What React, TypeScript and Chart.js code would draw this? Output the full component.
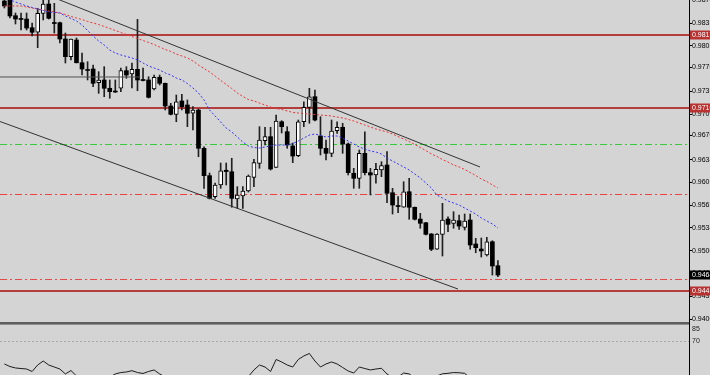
import React, { useEffect, useRef } from "react";
import { Chart, registerables } from "chart.js";

Chart.register(...registerables);

// ---- candle data (price) ----
const OPEN = [0.98679,0.98709,0.98463,0.98422,0.98414,0.98286,0.98219,0.98498,0.98635,0.98363,
0.98360,0.98120,0.97860,0.98105,0.97771,0.97671,0.97679,0.97477,0.97517,0.97395,
0.97352,0.97395,0.97654,0.97605,0.97674,0.97524,0.97517,0.97384,0.97557,0.97468,
0.97134,0.97012,0.97208,0.97149,0.97027,0.97075,0.96512,0.96109,0.95800,0.95972,
0.96189,0.96167,0.95766,0.95810,0.95883,0.96085,0.96291,0.96624,0.96683,0.96232,
0.96903,0.96756,0.96546,0.96403,0.96903,0.97115,0.97271,0.96693,0.96512,0.96438,
0.96771,0.96821,0.96575,0.96144,0.96070,0.96438,0.96153,0.96119,0.96192,0.96266,
0.95858,0.95670,0.95644,0.95873,0.95644,0.95471,0.95417,0.95251,0.95026,0.95246,
0.95471,0.95408,0.95446,0.95349,0.95457,0.95104,0.95030,0.94942,0.95137,0.94784];

const HIGH = [0.98738,0.98738,0.98503,0.98503,0.98503,0.98356,0.98572,0.98694,0.98694,0.98645,
0.98370,0.98208,0.98120,0.98135,0.97914,0.97786,0.97738,0.97639,0.97713,0.97517,
0.97517,0.97693,0.97713,0.97767,0.98410,0.97693,0.97565,0.97590,0.97590,0.97473,
0.97174,0.97296,0.97306,0.97223,0.97124,0.97090,0.96535,0.96148,0.96001,0.96295,
0.96295,0.96365,0.95947,0.95947,0.96119,0.96350,0.96830,0.96821,0.96821,0.97002,
0.96918,0.96830,0.96590,0.96928,0.97197,0.97395,0.97370,0.96977,0.96634,0.96928,
0.96903,0.96880,0.96590,0.96217,0.96487,0.96756,0.96217,0.96291,0.96315,0.96462,
0.95923,0.95800,0.96020,0.96070,0.95648,0.95555,0.95420,0.95258,0.95258,0.95702,
0.95505,0.95579,0.95530,0.95545,0.95545,0.95187,0.95192,0.95202,0.95152,0.94858];

const LOW = [0.98576,0.98429,0.98341,0.98253,0.98253,0.98164,0.97992,0.98400,0.98414,0.98208,
0.98061,0.97767,0.97811,0.97767,0.97590,0.97517,0.97418,0.97321,0.97271,0.97248,
0.97333,0.97345,0.97542,0.97399,0.97359,0.97502,0.97252,0.97370,0.97443,0.97075,
0.97002,0.96903,0.97075,0.96830,0.96781,0.96388,0.95923,0.95766,0.95776,0.95923,
0.95972,0.95644,0.95629,0.95629,0.95869,0.95947,0.96218,0.96560,0.96192,0.96229,
0.96737,0.96512,0.96300,0.96388,0.96830,0.96880,0.96913,0.96413,0.96340,0.96388,
0.96732,0.96438,0.96119,0.95923,0.95923,0.96119,0.95825,0.95997,0.96094,0.95711,
0.95545,0.95564,0.95644,0.95467,0.95457,0.95335,0.95236,0.95005,0.95023,0.94927,
0.95285,0.95335,0.95320,0.95310,0.95026,0.94975,0.94912,0.94927,0.94647,0.94622];

const CLOSE = [0.98606,0.98459,0.98414,0.98407,0.98282,0.98219,0.98498,0.98635,0.98425,0.98348,
0.98120,0.97860,0.98120,0.97771,0.97679,0.97657,0.97468,0.97517,0.97395,0.97345,
0.97340,0.97654,0.97590,0.97674,0.97517,0.97509,0.97262,0.97557,0.97468,0.97134,
0.97012,0.97197,0.97124,0.97027,0.97075,0.96512,0.96109,0.95776,0.95972,0.96182,
0.96170,0.95776,0.95825,0.95883,0.96104,0.96300,0.96634,0.96683,0.96207,0.96913,
0.96830,0.96560,0.96398,0.96903,0.97115,0.97271,0.96928,0.96512,0.96438,0.96766,
0.96821,0.96575,0.96153,0.96070,0.96438,0.96153,0.96119,0.96203,0.96256,0.95850,
0.95677,0.95655,0.95873,0.95644,0.95467,0.95408,0.95246,0.95026,0.95251,0.95457,
0.95393,0.95457,0.95368,0.95442,0.95089,0.95049,0.95001,0.95137,0.94780,0.94647];

// ---- moving averages ----
const MA_FAST = [0.98723,0.98694,0.98665,0.98635,0.98606,0.98584,0.98562,0.98539,0.98517,0.98510,
0.98503,0.98459,0.98422,0.98385,0.98326,0.98245,0.98164,0.98091,0.98032,0.97958,
0.97914,0.97885,0.97863,0.97841,0.97811,0.97767,0.97723,0.97693,0.97664,0.97620,
0.97590,0.97546,0.97517,0.97465,0.97399,0.97326,0.97223,0.97075,0.96987,0.96899,
0.96810,0.96752,0.96678,0.96604,0.96546,0.96523,0.96516,0.96531,0.96546,0.96560,
0.96560,0.96560,0.96582,0.96619,0.96663,0.96707,0.96722,0.96700,0.96678,0.96693,
0.96693,0.96663,0.96619,0.96575,0.96531,0.96501,0.96472,0.96457,0.96428,0.96369,
0.96325,0.96281,0.96237,0.96192,0.96134,0.96075,0.96001,0.95928,0.95825,0.95780,
0.95736,0.95707,0.95677,0.95633,0.95589,0.95545,0.95486,0.95442,0.95398,0.95339];

const MA_SLOW = [0.98606,0.98606,0.98606,0.98606,0.98591,0.98576,0.98562,0.98547,0.98532,0.98517,
0.98503,0.98481,0.98451,0.98429,0.98407,0.98378,0.98356,0.98333,0.98304,0.98275,
0.98245,0.98216,0.98186,0.98157,0.98127,0.98098,0.98068,0.98039,0.98002,0.97966,
0.97936,0.97899,0.97870,0.97841,0.97796,0.97738,0.97686,0.97635,0.97576,0.97510,
0.97451,0.97392,0.97326,0.97274,0.97230,0.97208,0.97178,0.97149,0.97119,0.97097,
0.97083,0.97061,0.97039,0.97031,0.97024,0.97016,0.97009,0.97002,0.96994,0.96987,
0.96972,0.96958,0.96936,0.96913,0.96884,0.96855,0.96825,0.96796,0.96774,0.96752,
0.96722,0.96685,0.96649,0.96612,0.96568,0.96523,0.96479,0.96428,0.96391,0.96347,
0.96310,0.96266,0.96237,0.96200,0.96156,0.96112,0.96060,0.96023,0.95972,0.95928];

// ---- oscillator (lower panel) ----
const OSC = [41.3,38.1,36.3,35.6,35.0,31.9,40.0,45.0,40.0,37.5,
35.0,28.8,33.1,26.3,21.3,18.8,17.5,18.8,21.3,25.0,
28.8,30.6,31.3,32.9,30.6,29.4,31.9,33.8,28.8,25.0,
21.3,18.8,17.5,15.0,13.8,11.3,8.8,8.8,10.0,11.3,
12.5,13.8,16.3,21.3,25.6,33.8,40.0,37.5,31.9,46.9,
43.8,40.0,37.5,46.9,51.3,54.4,45.0,37.5,41.3,43.8,
41.3,36.9,32.5,30.0,37.5,35.6,33.8,35.0,35.9,28.8,
23.8,25.0,30.0,28.8,23.8,21.3,18.8,21.3,26.3,29.0,
29.6,30.6,30.3,29.6,23.8,20.0,20.0,21.3,17.5,13.8];
const OSC_LEVELS = [85, 70];
const OSC_DOTTED_LEVEL = 70;
const OSC_PANEL_TOP = 94;

// ---- axis ticks ----
const PRICE_TICKS = [0.94000,0.94335,0.94670,0.95005,0.95340,0.95675,0.96010,0.96345,0.96700,0.97015,0.97350,0.97700,0.98020,0.98355,0.98700];

// ---- drawn objects ----
const SOLID_LEVELS = [0.98179, 0.97100, 0.94412];
const DASHDOT_LEVELS = [0.96571, 0.95835, 0.94588];
const UPPER_CHANNEL_X = [8, 85.77];
const UPPER_CHANNEL_Y = [0.98759, 0.96237];
const LOWER_CHANNEL_X = [-0.79, 81.8];
const LOWER_CHANNEL_Y = [0.96906, 0.94441];
const HLINE_X = [-0.79, 24.5];
const HLINE_Y = [0.97561, 0.97561];

// ---- styles ----
const BG = "#d4d4d4";
const DASHDOT_COLORS = ["#3cc83c", "#f04040", "#e44c4c"];
const SOLID_COLOR = "#b43e3e";
const LABEL_RED = "#b83232";
const FONT = "'Liberation Sans', Arial, sans-serif";

const panelPlugin = {
  id: "panels",
  beforeDraw(chart: any) {
    const { ctx, width, height } = chart;
    ctx.save();
    ctx.fillStyle = BG;
    ctx.fillRect(0, 0, width, height);
    ctx.restore();
  },
  beforeDatasetsDraw(chart: any) {
    const { ctx, chartArea, scales } = chart;
    const y = scales.y;
    const yi = scales.yInd;
    const right = chartArea.right;
    ctx.save();
    ctx.lineWidth = 2;
    ctx.strokeStyle = SOLID_COLOR;
    SOLID_LEVELS.forEach((v) => {
      const p = Math.round(y.getPixelForValue(v));
      ctx.beginPath();
      ctx.moveTo(0, p);
      ctx.lineTo(right, p);
      ctx.stroke();
    });
    ctx.lineWidth = 1;
    ctx.setLineDash([7, 3, 2, 3]);
    DASHDOT_LEVELS.forEach((v, k) => {
      const p = Math.round(y.getPixelForValue(v)) + 0.5;
      ctx.strokeStyle = DASHDOT_COLORS[k];
      ctx.beginPath();
      ctx.moveTo(0, p);
      ctx.lineTo(right, p);
      ctx.stroke();
    });
    // oscillator level dotted line
    ctx.setLineDash([2, 2]);
    ctx.strokeStyle = "#a9a9a9";
    const pl = Math.round(yi.getPixelForValue(OSC_DOTTED_LEVEL)) + 0.5;
    ctx.beginPath();
    ctx.moveTo(0, pl);
    ctx.lineTo(right, pl);
    ctx.stroke();
    ctx.setLineDash([]);
    // separator between panels
    const sp = Math.round(yi.getPixelForValue(OSC_PANEL_TOP));
    ctx.fillStyle = "#5e5e5e";
    ctx.fillRect(0, sp, right, 2);
    ctx.fillStyle = "#8e8e8e";
    ctx.fillRect(0, sp + 2, right, 1);
    ctx.restore();
  },
  afterDraw(chart: any) {
    const { ctx, chartArea, scales } = chart;
    const y = scales.y;
    const yi = scales.yInd;
    const right = chartArea.right;
    ctx.save();
    ctx.font = `7px ${FONT}`;
    ctx.textBaseline = "middle";
    ctx.textAlign = "left";
    const boxes = [
      ...SOLID_LEVELS.map((v) => ({ v, bg: LABEL_RED })),
      { v: CLOSE[CLOSE.length - 1], bg: "#000000" },
    ];
    boxes.forEach((b) => {
      const p = Math.round(y.getPixelForValue(b.v));
      ctx.fillStyle = b.bg;
      ctx.fillRect(right + 1, p - 4.5, 30, 9);
      ctx.fillStyle = "#ffffff";
      ctx.fillText(b.v.toFixed(5), right + 3, p);
    });
    ctx.fillStyle = "#222";
    OSC_LEVELS.forEach((v) => {
      ctx.fillText(String(v), right + 3, yi.getPixelForValue(v));
    });
    ctx.restore();
  },
};

export default function App() {
  const ref = useRef<HTMLCanvasElement>(null);

  useEffect(() => {
    document.body.style.margin = "0";
    const canvas = ref.current;
    if (!canvas) return;
    const idx = OPEN.map((_, i) => i);
    const wicks = idx.map((i) => ({ x: i, y: [LOW[i], HIGH[i]] }));
    const bear = idx.filter((i) => CLOSE[i] < OPEN[i]).map((i) => ({ x: i, y: [CLOSE[i], OPEN[i]] }));
    const bull = idx.filter((i) => CLOSE[i] >= OPEN[i]).map((i) => ({ x: i, y: [OPEN[i], CLOSE[i]] }));
    const pts = (xs: number[], ys: number[]) => xs.map((x, k) => ({ x, y: ys[k] }));
    const lineBase = { type: "line", pointRadius: 0, borderWidth: 1, fill: false, tension: 0, order: -1, yAxisID: "y" };

    const chart = new Chart(canvas, {
      type: "bar",
      data: {
        datasets: [
          { ...lineBase, data: MA_FAST.map((v, i) => ({ x: i, y: v })), borderColor: "#3434ff", borderDash: [2, 2] } as any,
          { ...lineBase, data: MA_SLOW.map((v, i) => ({ x: i, y: v })), borderColor: "#f03434", borderDash: [2, 2] } as any,
          { ...lineBase, data: pts(UPPER_CHANNEL_X, UPPER_CHANNEL_Y), borderColor: "#333333" } as any,
          { ...lineBase, data: pts(LOWER_CHANNEL_X, LOWER_CHANNEL_Y), borderColor: "#333333" } as any,
          { ...lineBase, data: pts(HLINE_X, HLINE_Y), borderColor: "#505050" } as any,
          { ...lineBase, yAxisID: "yInd", data: OSC.map((v, i) => ({ x: i, y: v })), borderColor: "#1c1c1c" } as any,
          {
            type: "bar", data: bear as any, backgroundColor: "#000000", borderWidth: 0,
            barThickness: 4, grouped: false, minBarLength: 1, order: 0, yAxisID: "y",
          } as any,
          {
            type: "bar", data: bull as any, backgroundColor: "#ffffff", borderColor: "#000000", borderWidth: 1,
            borderSkipped: false, barThickness: 4, grouped: false, minBarLength: 1, order: 0, yAxisID: "y",
          } as any,
          {
            type: "bar", data: wicks as any, backgroundColor: "#202020", borderWidth: 0,
            barThickness: 1, grouped: false, order: 1, yAxisID: "y",
          } as any,
        ],
      },
      options: {
        animation: false,
        responsive: false,
        devicePixelRatio: 1,
        events: [],
        layout: { padding: 0, autoPadding: false },
        plugins: { legend: { display: false }, tooltip: { enabled: false }, title: { display: false } },
        scales: {
          x: { type: "linear", min: -0.7935, max: 123.46, display: false, offset: false, bounds: "data" },
          y: {
            type: "linear",
            position: "right",
            min: 0.93176,
            max: 0.98694,
            bounds: "data",
            afterBuildTicks: (s: any) => {
              s.ticks = PRICE_TICKS.map((v) => ({ value: v }));
            },
            afterFit: (s: any) => {
              s.width = 21;
              s.paddingTop = 0;
              s.paddingBottom = 0;
            },
            grid: { drawOnChartArea: false, drawTicks: true, tickLength: 3, color: "#000000", lineWidth: 1 },
            border: { display: true, color: "#000000", width: 1 },
            ticks: {
              autoSkip: false,
              padding: 0,
              maxRotation: 0,
              color: "#000000",
              font: { size: 7, family: FONT },
              callback: (v: any) => Number(v).toFixed(5),
            },
          },
          yInd: { type: "linear", display: false, min: 27.5, max: 496.25, bounds: "data" },
        },
      } as any,
      plugins: [panelPlugin],
    });
    return () => chart.destroy();
  }, []);

  return (
    <div style={{ width: 710, height: 375, overflow: "hidden" }}>
      <canvas ref={ref} width={710} height={375} style={{ display: "block" }} />
    </div>
  );
}
